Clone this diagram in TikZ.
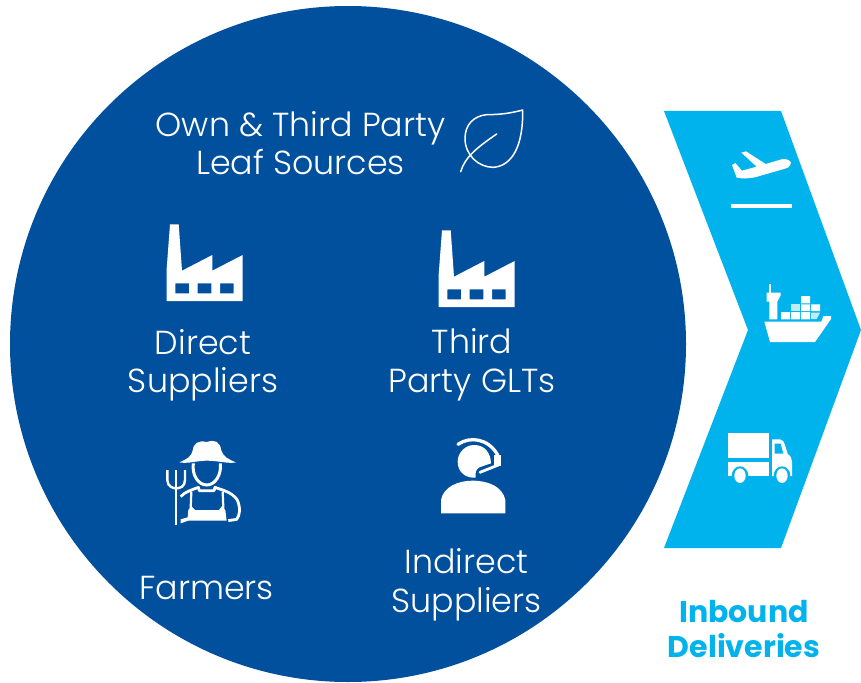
\documentclass[tikz,border=0pt]{standalone}
\usepackage{fontspec}
\setmainfont{Poppins}[UprightFont=* Light,BoldFont=* Bold]
\definecolor{navy}{HTML}{00509E}
\definecolor{sky}{HTML}{00B3EC}
\tikzset{
  label text/.style={text=white,font=\fontsize{33.3}{38.5}\selectfont,align=center,inner sep=0pt},
  inbound text/.style={text=sky,font=\fontsize{30}{35}\selectfont\bfseries,align=center,inner sep=0pt}
}
\newcommand{\factoryicon}{%
  \fill[white,even odd rule] (170,224.3)--(178.7,224.3)--(182,270.7)--(212.3,255)--(212.3,270.7)--(242.7,255)--(242.7,301)--(166.7,301)--(166.7,268.3)--cycle
  (175.3,283.3) rectangle (189,293.3)
  (197.7,283.3) rectangle (211.3,293.3)
  (220,283.3) rectangle (233.7,293.3);}
\begin{document}
\begin{tikzpicture}[x=1pt,y=-1pt]
\useasboundingbox (0,0) rectangle (861,682);
\fill[white] (0,0) rectangle (861,682);
\fill[navy] (348,344) circle[radius=338];
\fill[sky] (664,111)--(781,111)--(861,330)--(781,548)--(664,548)--(748,330)--cycle;

% leaf
\begin{scope}[shift={(450,100)},scale=1/3]
\draw[white,line width=1.5pt,line join=round,line cap=round]
 (218,30) .. controls (180,40) and (150,44) .. (110,44)
 .. controls (70,48) and (45,75) .. (45,115)
 .. controls (45,165) and (85,202) .. (130,202)
 .. controls (185,198) and (220,140) .. (218,30) --cycle;
\draw[white,line width=1.5pt,line cap=round]
 (32,215) .. controls (45,170) and (85,140) .. (140,102);
\end{scope}

% factories
\begin{scope}\factoryicon\end{scope}
\begin{scope}[shift={(272,6)}]\factoryicon\end{scope}

% farmer
\begin{scope}[shift={(150,430)},scale=1/3]
\fill[white] (88,97) .. controls (110,88) and (124,80) .. (128,62)
 .. controls (130,40) and (145,30) .. (170,36)
 .. controls (195,28) and (210,34) .. (214,62)
 .. controls (220,80) and (235,88) .. (258,97)
 .. controls (235,102) and (205,92) .. (170,92)
 .. controls (140,92) and (115,102) .. (88,97) --cycle;
\draw[white,line width=3pt] (130,100) .. controls (125,135) and (145,165) .. (170,165)
 .. controls (195,165) and (215,135) .. (211,100);
\draw[white,line width=2.8pt] (78,120)--(78,285);
\draw[white,line width=2.4pt] (52,120)--(52,150) .. controls (52,170) and (70,175) .. (78,175)
 .. controls (90,175) and (105,170) .. (105,150)--(105,120);
\draw[white,line width=2.8pt,line join=round] (92,200) .. controls (105,185) and (125,180) .. (145,172)--(148,182)--(192,182)--(195,172)
 .. controls (215,180) and (245,185) .. (262,210) .. controls (272,235) and (270,255) .. (260,268)--(235,272);
\draw[white,line width=2.2pt] (124,185)--(122,235) (218,185)--(220,235);
\fill[white] (115,240)--(124,228)--(135,240)--(207,240)--(216,228)--(226,240)--(230,272)--(115,272)--(92,280)--(92,268)--(113,262)--cycle;
\end{scope}

% agent
\begin{scope}[shift={(430,430)},scale=1/3]
\fill[white] (133,45) .. controls (165,45) and (182,70) .. (183,100)
 -- (148,112) .. controls (138,118) and (135,128) .. (137,143)
 .. controls (105,145) and (83,125) .. (83,95)
 .. controls (83,68) and (105,45) .. (133,45) --cycle;
\fill[white] (33,250)--(33,210) .. controls (40,170) and (85,152) .. (128,152)
 .. controls (175,152) and (218,170) .. (226,210)--(226,250)--cycle;
\draw[white,line width=3.3pt,line cap=round] (84,43) .. controls (120,18) and (175,25) .. (203,75);
\fill[white] (193,75) rectangle (214,107);
\draw[white,line width=2.8pt,line cap=round] (205,105) -- (150,127);
\end{scope}

% plane and bar
\begin{scope}[shift={(660,100)},scale=1/3]
\fill[white] (216,195)--(226,189)--(246,212)--(290,200)--(244,158)--(258,154)--(317,192)--(368,177)
 .. controls (385,176) and (396,185) .. (392,192)
 .. controls (390,200) and (385,203) .. (375,206)
 --(285,232) .. controls (265,236) and (245,236) .. (230,233)--cycle;
\fill[white] (213,311) rectangle (396,324);
\end{scope}

% ship
\begin{scope}[shift={(660,270)},scale=1/3]
\fill[white] (313,155)--(484,155)--(490,138)--(513,138)--(513,147)--(465,216)--(330,216)--cycle;
\fill[white] (328,42) rectangle (333,70);
\fill[white] (320,68)--(362,68)--(362,76)--(352,95)--(352,148)--(328,148)--(328,95)--(320,95)--cycle;
\fill[white] (363,126) rectangle (390,148) (393,126) rectangle (420,148) (423,126) rectangle (450,148);
\fill[white!75!sky] (453,128)--(480,128)--(470,147)--(453,147)--cycle;
\fill[white!75!sky] (393,103) rectangle (420,123);
\fill[white] (423,103) rectangle (450,123) (453,103) rectangle (480,123) (423,78) rectangle (450,100);
\end{scope}

% truck
\begin{scope}[shift={(660,270)},scale=1/3]
\fill[white] (204,489) rectangle (328,563);
\fill[white] (204,575) rectangle (328,618);
\fill[white] (336,508)--(360,508) .. controls (368,508) and (372,516) .. (375,525)--(383,552) .. controls (392,558) and (396,565) .. (396,575)--(396,618)--(336,618)--cycle;
\fill[sky] (344,521)--(362,521)--(370,551)--(344,551)--cycle;
\fill[sky] (240,618) ellipse[x radius=25,y radius=29] (366,618) ellipse[x radius=25,y radius=29];
\fill[white] (240,617) ellipse[x radius=17,y radius=22] (366,617) ellipse[x radius=17,y radius=22];
\end{scope}

% labels
\node[label text] (leaf) at (300.5,143) {Own \& Third Party\\Leaf Sources};
\node[label text] (direct) at (203,365.5) {Direct\\Suppliers};
\node[label text] (third) at (472,365) {Third\\Party GLTs};
\node[label text] (farmers) at (206.5,588) {Farmers};
\node[label text] (indirect) at (466.5,585) {Indirect\\Suppliers};
\node[inbound text] (inbound) at (744,629) {Inbound\\Deliveries};
\end{tikzpicture}
\end{document}
